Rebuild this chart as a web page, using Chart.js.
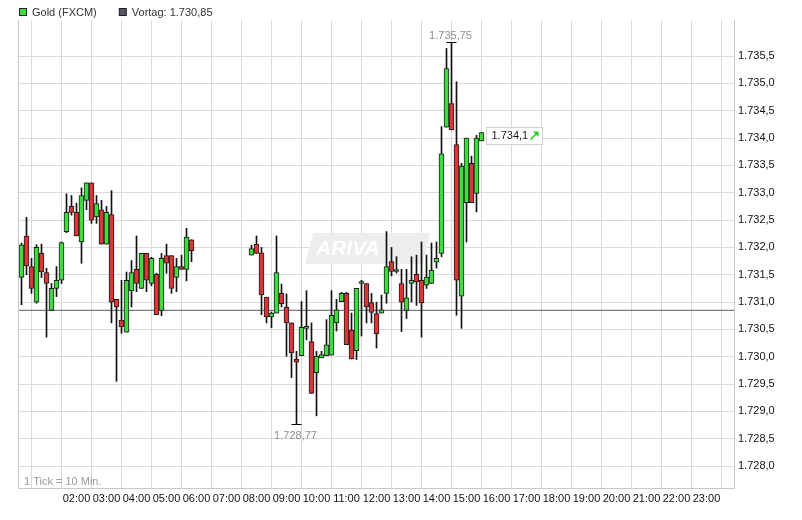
<!DOCTYPE html>
<html><head><meta charset="utf-8">
<script src="https://cdn.jsdelivr.net/npm/chart.js@4.4.0/dist/chart.umd.min.js"></script>
<style>html,body{margin:0;padding:0;background:#fff;}canvas{display:block;}</style>
</head><body>
<canvas id="c" width="802" height="520"></canvas>
<script>
const seriesName = 'Gold (FXCM)';
const prevCloseName = 'Vortag';
const prevClose = 1730.85;
const tickNote = '1 Tick = 10 Min.';
const watermarkText = 'ARIVA';

const times = [
 '00:10','00:20','00:30','00:40','00:50','01:00','01:10','01:20','01:30','01:40','01:50','02:00',
 '02:10','02:20','02:30','02:40','02:50','03:00','03:10','03:20','03:30','03:40','03:50','04:00',
 '04:10','04:20','04:30','04:40','04:50','05:00','05:10','05:20','05:30','05:40','05:50',
 '07:50','08:00','08:10','08:20','08:30','08:40','08:50','09:00','09:10','09:20','09:30','09:40',
 '09:50','10:00','10:10','10:20','10:30','10:40','10:50','11:00','11:10','11:20','11:30','11:40',
 '11:50','12:00','12:10','12:20','12:30','12:40','12:50','13:00','13:10','13:20','13:30','13:40',
 '13:50','14:00','14:10','14:20','14:30','14:40','14:50','15:00','15:10','15:20','15:30'
];
const opens = [
 1731.45,1732.21,1731.65,1731.00,1731.89,1731.54,1730.85,1731.25,1731.40,1732.29,1732.75,1732.64,
 1732.10,1732.86,1733.18,1732.56,1732.69,1732.06,1732.60,1731.05,1730.67,1730.45,1731.21,1731.60,
 1731.25,1731.89,1731.34,1731.51,1730.85,1731.85,1731.85,1731.45,1731.65,1731.60,1732.14,
 1731.86,1732.06,1731.90,1731.09,1730.73,1730.80,1731.16,1730.91,1730.62,1729.96,1730.02,1730.52,
 1730.28,1729.71,1729.98,1730.02,1730.03,1730.62,1731.01,1731.16,1730.49,1730.11,1731.34,1731.34,
 1730.99,1730.79,1730.80,1731.16,1731.74,1731.56,1731.34,1730.85,1731.34,1731.51,1731.40,1731.31,
 1731.34,1731.73,1731.89,1734.20,1734.63,1733.88,1731.11,1732.82,1733.54,1732.99,1733.95
];
const highs = [
 1732.08,1732.55,1731.80,1732.05,1732.06,1731.62,1731.34,1731.65,1732.10,1732.98,1732.95,1732.81,
 1733.09,1733.18,1733.18,1732.95,1732.86,1732.75,1733.04,1731.05,1731.40,1731.55,1731.76,1732.21,
 1731.89,1731.89,1731.82,1731.53,1731.89,1732.06,1731.85,1731.80,1731.86,1732.35,1732.14,
 1732.04,1732.21,1732.00,1731.09,1730.82,1732.21,1731.33,1731.15,1730.62,1730.10,1731.01,1731.21,
 1730.62,1730.10,1730.10,1730.68,1731.21,1731.05,1731.18,1731.18,1730.80,1731.25,1731.40,1731.34,
 1731.16,1731.00,1731.13,1732.29,1732.00,1731.83,1731.60,1731.60,1731.83,1731.86,1732.10,1731.86,
 1732.08,1732.10,1734.21,1735.64,1735.75,1735.03,1733.54,1734.00,1733.67,1734.05,1734.10
];
const lows = [
 1730.95,1731.50,1731.16,1730.98,1731.45,1730.36,1730.85,1731.10,1731.34,1732.27,1732.59,1732.21,
 1731.71,1732.69,1732.44,1732.44,1732.06,1732.06,1730.62,1729.55,1730.43,1730.45,1730.91,1731.19,
 1731.25,1731.19,1731.30,1730.77,1730.75,1731.53,1731.16,1731.19,1731.60,1731.39,1731.74,
 1731.86,1731.89,1730.77,1730.62,1730.53,1730.80,1730.91,1730.01,1729.62,1728.77,1730.02,1730.31,
 1729.33,1728.92,1729.98,1730.02,1730.03,1730.47,1731.01,1730.22,1729.96,1729.95,1730.38,1730.62,
 1730.62,1730.16,1730.80,1730.98,1731.48,1731.53,1730.46,1730.70,1731.00,1730.94,1730.36,1731.25,
 1731.34,1731.62,1731.83,1734.20,1734.15,1730.76,1730.52,1732.10,1732.82,1732.65,1733.95
];
const closes = [
 1732.05,1731.66,1731.25,1732.00,1731.55,1731.34,1731.25,1731.40,1732.09,1732.64,1732.64,1732.21,
 1732.95,1733.18,1732.50,1732.80,1732.06,1732.64,1731.00,1730.91,1730.55,1731.40,1731.54,1731.34,
 1731.89,1731.40,1731.80,1730.77,1731.80,1731.71,1731.25,1731.65,1731.60,1732.19,1731.94,
 1731.98,1731.89,1731.13,1730.73,1730.80,1731.54,1730.97,1730.62,1730.07,1729.90,1730.54,1730.52,
 1729.33,1730.01,1730.04,1730.22,1730.76,1730.86,1731.16,1730.22,1729.96,1731.25,1731.34,1730.91,
 1730.81,1730.42,1730.86,1731.65,1731.56,1731.56,1731.00,1731.08,1731.40,1731.37,1730.99,1731.46,
 1731.58,1731.80,1733.71,1735.27,1734.15,1731.40,1733.49,1734.00,1732.82,1734.00,1734.10
];
const yTicks = [1728.0,1728.5,1729.0,1729.5,1730.0,1730.5,1731.0,1731.5,1732.0,1732.5,1733.0,1733.5,1734.0,1734.5,1735.0,1735.5];
const gridHours = ['01:00','02:00','03:00','04:00','05:00','06:00','07:00','08:00','09:00','10:00','11:00','12:00',
 '13:00','14:00','15:00','16:00','17:00','18:00','19:00','20:00','21:00','22:00','23:00'];
const xTickLabels = ['02:00','03:00','04:00','05:00','06:00','07:00','08:00','09:00','10:00','11:00','12:00',
 '13:00','14:00','15:00','16:00','17:00','18:00','19:00','20:00','21:00','22:00','23:00'];

const FONT = '"Liberation Sans", Arial, Helvetica, sans-serif';
const UP = '#3fdc3f', DOWN = '#dc3535', EDGE = '#1c1c1c';
const toMin = s => { const [h, m] = s.split(':').map(Number); return h * 60 + m; };
const fmtMin = v => String(Math.floor(v / 60)).padStart(2, '0') + ':' + String(v % 60).padStart(2, '0');
function fmtDE(v, dec) {
  const [ip, fp] = v.toFixed(dec).split('.');
  return ip.replace(/\B(?=(\d{3})+(?!\d))/g, '.') + (fp ? ',' + fp : '');
}

const wickData = times.map((t, i) => ({x: toMin(t), y: [lows[i], highs[i]]}));
const bodyData = times.map((t, i) => ({x: toMin(t), y: [opens[i], closes[i]]}));
const bodyColors = times.map((t, i) => closes[i] >= opens[i] ? UP : DOWN);
const X_MIN = 3, X_MAX = 1435;

const extras = {
  id: 'extras',
  beforeDatasetsDraw(chart) {
    const ctx = chart.ctx;
    ctx.save();
    ctx.fillStyle = '#ededed';
    ctx.beginPath();
    ctx.moveTo(313, 233); ctx.lineTo(430, 233); ctx.lineTo(423, 264); ctx.lineTo(305, 264);
    ctx.closePath(); ctx.fill();
    ctx.font = 'italic bold 21px ' + FONT;
    ctx.fillStyle = '#ffffff';
    ctx.textBaseline = 'middle';
    ctx.fillText(watermarkText, 316, 249);
    ctx.restore();
  },
  afterDatasetsDraw(chart) {
    const ctx = chart.ctx, xs = chart.scales.x, ys = chart.scales.y, a = chart.chartArea;
    ctx.save();
    ctx.strokeStyle = '#c8c8c8'; ctx.lineWidth = 1;
    ctx.beginPath(); ctx.moveTo(a.left + 0.5, a.top); ctx.lineTo(a.left + 0.5, a.bottom); ctx.stroke();
    let hi = 0, lo = 0;
    highs.forEach((v, i) => { if (v > highs[hi]) hi = i; });
    lows.forEach((v, i) => { if (v < lows[lo]) lo = i; });
    ctx.font = '11px ' + FONT;
    ctx.fillStyle = '#8c8c8c';
    ctx.textAlign = 'center'; ctx.textBaseline = 'middle';
    ctx.strokeStyle = '#000';
    const hx = Math.floor(xs.getPixelForValue(toMin(times[hi]))) + 0.5;
    const hy = Math.round(ys.getPixelForValue(highs[hi])) + 0.5;
    ctx.beginPath(); ctx.moveTo(hx - 5, hy); ctx.lineTo(hx + 5, hy); ctx.stroke();
    ctx.fillText(fmtDE(highs[hi], 2), hx - 1, hy - 7);
    const lx = Math.floor(xs.getPixelForValue(toMin(times[lo]))) + 0.5;
    const ly = Math.round(ys.getPixelForValue(lows[lo])) + 0.5;
    ctx.beginPath(); ctx.moveTo(lx - 5, ly); ctx.lineTo(lx + 5, ly); ctx.stroke();
    ctx.fillText(fmtDE(lows[lo], 2), lx - 1, ly + 11);
    const li = times.length - 1;
    const px = xs.getPixelForValue(toMin(times[li])) + 4;
    const py = ys.getPixelForValue(closes[li]) + 3;
    const bx = Math.round(px) + 0.5, by = Math.round(py - 8.5) + 0.5;
    ctx.fillStyle = '#ffffff'; ctx.strokeStyle = '#d2d2d2';
    ctx.fillRect(bx, by, 56, 17); ctx.strokeRect(bx, by, 56, 17);
    ctx.fillStyle = '#1a1a1a'; ctx.textAlign = 'left';
    ctx.fillText(fmtDE(closes[li], 1), bx + 5, by + 8.5);
    const up = closes[li] >= closes[li - 1];
    ctx.strokeStyle = up ? '#22cc22' : '#cc2222'; ctx.fillStyle = ctx.strokeStyle; ctx.lineWidth = 1.6;
    const ax = bx + 44, ay = by + 12;
    ctx.beginPath(); ctx.moveTo(ax, ay); ctx.lineTo(ax + 6, ay - 6); ctx.stroke();
    ctx.beginPath(); ctx.moveTo(ax + 8, ay - 8); ctx.lineTo(ax + 2.5, ay - 8); ctx.lineTo(ax + 8, ay - 2.5); ctx.closePath(); ctx.fill();
    ctx.fillStyle = '#9a9a9a'; ctx.textAlign = 'left';
    ctx.fillText(tickNote, a.left + 6, a.bottom - 6);
    ctx.restore();
  },
  afterDraw(chart) {
    const ctx = chart.ctx;
    ctx.save();
    ctx.font = '11px ' + FONT;
    ctx.textBaseline = 'middle'; ctx.textAlign = 'left';
    let x = 19;
    chart.data.datasets.filter(d => d.legendColor).forEach(d => {
      ctx.fillStyle = d.legendColor; ctx.fillRect(x + 0.5, 8.5, 7, 7);
      ctx.strokeStyle = '#222'; ctx.lineWidth = 1; ctx.strokeRect(x + 0.5, 8.5, 7, 7);
      ctx.fillStyle = '#333';
      ctx.fillText(d.label, x + 13, 12.5);
      x += 13 + ctx.measureText(d.label).width + 22;
    });
    ctx.restore();
  }
};

new Chart(document.getElementById('c'), {
  type: 'bar',
  data: {
    datasets: [
      {type: 'bar', label: seriesName, legendColor: UP, data: bodyData, backgroundColor: bodyColors,
       borderColor: EDGE, borderWidth: 1, borderSkipped: false, barThickness: 5, minBarLength: 2,
       grouped: false, order: 1},
      {type: 'bar', label: 'wick', data: wickData, backgroundColor: '#111', borderWidth: 0,
       barThickness: 1, grouped: false, order: 2},
      {type: 'line', label: prevCloseName + ': ' + fmtDE(prevClose, 2), legendColor: '#555566',
       data: [{x: X_MIN, y: prevClose}, {x: X_MAX, y: prevClose}], borderColor: '#5a5a6c', borderWidth: 1,
       pointRadius: 0, order: 3}
    ]
  },
  options: {
    responsive: false, animation: false, events: [],
    layout: {padding: {left: 18, top: 20, right: 0, bottom: 0}},
    plugins: {legend: {display: false}, tooltip: {enabled: false}},
    scales: {
      x: {
        type: 'linear', position: 'bottom', min: X_MIN, max: X_MAX, offset: false,
        afterBuildTicks: s => { s.ticks = gridHours.map(h => ({value: toMin(h)})); },
        afterFit: s => { s.height = 32; },
        grid: {color: '#dadada', drawTicks: false},
        border: {display: true, color: '#c8c8c8'},
        ticks: {autoSkip: false, maxRotation: 0, minRotation: 0, padding: 4, color: '#111',
          font: {family: FONT, size: 11},
          callback: v => { const l = fmtMin(v); return xTickLabels.includes(l) ? l : ''; }}
      },
      y: {
        type: 'linear', position: 'right', min: 1727.6, max: 1736.16,
        afterBuildTicks: s => { s.ticks = yTicks.map(v => ({value: v})); },
        afterFit: s => { s.width = 68; },
        grid: {color: '#dadada', drawTicks: false},
        border: {display: true, color: '#c8c8c8'},
        ticks: {padding: 4, color: '#111', font: {family: FONT, size: 11}, callback: v => fmtDE(v, 1)}
      }
    }
  },
  plugins: [extras]
});
</script>
</body></html>
